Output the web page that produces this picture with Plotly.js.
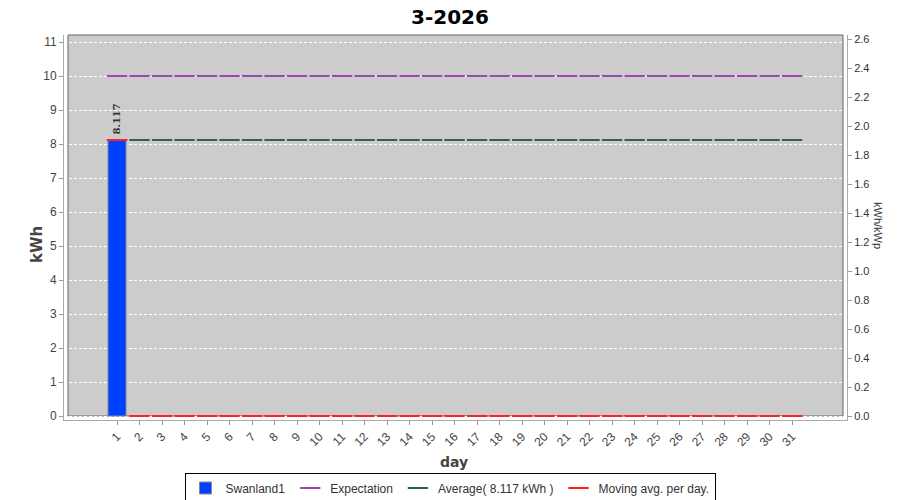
<!DOCTYPE html>
<html>
<head>
<meta charset="utf-8">
<script src="https://cdn.plot.ly/plotly-3.0.1.min.js"></script>
<style>html,body{margin:0;padding:0;background:#fff;}#chart{width:900px;height:500px;}</style>
</head>
<body>
<div id="chart"></div>
<script>
const days = ["1","2","3","4","5","6","7","8","9","10","11","12","13","14","15","16","17","18","19","20","21","22","23","24","25","26","27","28","29","30","31"];
const production = [8.117,0,0,0,0,0,0,0,0,0,0,0,0,0,0,0,0,0,0,0,0,0,0,0,0,0,0,0,0,0,0];
const expectation = [10,10,10,10,10,10,10,10,10,10,10,10,10,10,10,10,10,10,10,10,10,10,10,10,10,10,10,10,10,10,10];
const average = [8.117,8.117,8.117,8.117,8.117,8.117,8.117,8.117,8.117,8.117,8.117,8.117,8.117,8.117,8.117,8.117,8.117,8.117,8.117,8.117,8.117,8.117,8.117,8.117,8.117,8.117,8.117,8.117,8.117,8.117,8.117];
const movingAvg = [8.117,0,0,0,0,0,0,0,0,0,0,0,0,0,0,0,0,0,0,0,0,0,0,0,0,0,0,0,0,0,0];
const yTicks = [0,1,2,3,4,5,6,7,8,9,10,11];
const y2Ticks = [0,0.2,0.4,0.6,0.8,1.0,1.2,1.4,1.6,1.8,2.0,2.2,2.4,2.6];

const segMarker = (color) => ({symbol:'line-ew', size:14.5, color:color, line:{color:color, width:2}});

const traces = [
  {type:'bar', x:days, y:production, name:'Swanland1', width:0.8,
   marker:{color:'#0040ff', line:{color:'#888', width:1}}, hoverinfo:'skip'},
  {type:'scatter', mode:'markers', x:days, y:expectation, name:'Expectation',
   marker:segMarker('#9a4aa8')},
  {type:'scatter', mode:'markers', x:days, y:average, name:'Average( 8.117 kWh )',
   marker:segMarker('#2e5e5a')},
  {type:'scatter', mode:'markers', x:days, y:movingAvg, name:'Moving avg. per day.',
   marker:segMarker('#ff2020')},
  {type:'scatter', mode:'markers', x:[days[0]], y:[0], yaxis:'y2', showlegend:false,
   marker:{opacity:0}, hoverinfo:'skip'}
];

const tickFont = {family:'Liberation Sans, Arial, sans-serif', size:12, color:'#444'};
const layout = {
  width:900, height:500,
  margin:{l:64, r:53, t:35, b:80, autoexpand:false},
  paper_bgcolor:'#ffffff', plot_bgcolor:'#ffffff',
  title:{text:'<b>3-2026</b>', x:0.5, xanchor:'center', y:0.966, yanchor:'middle',
         font:{family:'DejaVu Sans, sans-serif', size:20, color:'#000'}},
  bargap:0.2,
  xaxis:{type:'category', range:[-2.356, 32.44], tickvals:days, ticktext:days, automargin:false,
         tickangle:-45, tickfont:tickFont, ticks:'outside', ticklen:4, tickcolor:'#999',
         showline:true, linecolor:'#aaa', showgrid:false, zeroline:false, fixedrange:true},
  yaxis:{range:[-0.1176, 11.206], tickvals:yTicks, ticktext:yTicks.map(String), automargin:false,
         tickfont:tickFont, ticks:'outside', ticklen:4, tickcolor:'#999',
         showline:true, linecolor:'#aaa', zeroline:false,
         showgrid:true, gridcolor:'#ffffff', griddash:'3px,2px', gridwidth:1},
  yaxis2:{overlaying:'y', side:'right', range:[-0.0276, 2.628], tickvals:y2Ticks, automargin:false,
          ticktext:y2Ticks.map(v=>v.toFixed(1)), tickfont:{family:'Liberation Sans, Arial, sans-serif', size:11, color:'#333'},
          ticks:'outside', ticklen:4, tickcolor:'#999', showline:true, linecolor:'#aaa',
          showgrid:false, zeroline:false},
  shapes:[
    {type:'rect', xref:'paper', yref:'paper', x0:4/783, x1:1-4/783, y0:4/385, y1:1,
     fillcolor:'#cccccc', line:{color:'#666', width:1}, layer:'below'}
  ],
  annotations:[
    {x:days.indexOf(days[0]), y:production[0], xref:'x', yref:'y', text:'<b>'+production[0].toFixed(3)+'</b>',
     textangle:-90, showarrow:false, xanchor:'center', yanchor:'bottom', yshift:3,
     font:{family:'DejaVu Serif, serif', size:10, color:'#333'}},
    {x:37, y:245, xref:'paper', yref:'paper', text:'<b>kWh</b>', textangle:-90, showarrow:false,
     xanchor:'center', yanchor:'middle',
     font:{family:'DejaVu Sans, sans-serif', size:15, color:'#444'}},
    {x:454, y:462, xref:'paper', yref:'paper', text:'<b>day</b>', showarrow:false,
     xanchor:'center', yanchor:'middle',
     font:{family:'DejaVu Sans, sans-serif', size:14, color:'#444'}},
    {x:878, y:225, xref:'paper', yref:'paper', text:'kWh/kWp', textangle:90, showarrow:false,
     xanchor:'center', yanchor:'middle',
     font:{family:'Liberation Sans, Arial, sans-serif', size:11, color:'#333'}}
  ],
  legend:{orientation:'h', x:0.5, xanchor:'center', xref:'container', y:0.024, yanchor:'middle', yref:'container',
          bordercolor:'#000', borderwidth:1, bgcolor:'#fff',
          font:{family:'Liberation Sans, Arial, sans-serif', size:12, color:'#333'},
          itemwidth:30, tracegroupgap:0},
  showlegend:true
};
// convert pixel-positioned annotations to paper coords
const pw = 900 - 64 - 53, ph = 500 - 35 - 80;
layout.annotations.forEach((a, i) => {
  if (i > 0) { a.x = (a.x - 64) / pw; a.y = (500 - 80 - a.y) / ph; }
});
Plotly.newPlot('chart', traces, layout, {staticPlot:true});
</script>
</body>
</html>
